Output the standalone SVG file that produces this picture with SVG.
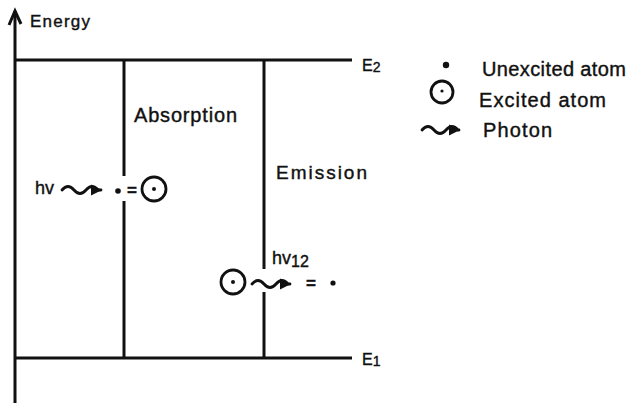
<svg xmlns="http://www.w3.org/2000/svg" width="634" height="403" viewBox="0 0 634 403">
<defs>
<style>
.t{font-family:"Liberation Sans",Arial,sans-serif;fill:#111;stroke:#111;stroke-width:0.4;}
.ln{stroke:#111;stroke-width:3;fill:none;}
.wave{stroke:#111;stroke-width:2.8;fill:none;stroke-linecap:round;}
.atomE{stroke:#111;stroke-width:2.8;fill:none;}
.dot{fill:#111;}
</style>
<marker id="ah" viewBox="0 0 10 10" refX="9" refY="5" markerWidth="4.2" markerHeight="4" markerUnits="strokeWidth" orient="auto">
<path d="M0,0 L10,5 L0,10 Z" fill="#111"/>
</marker>
</defs>
<rect width="634" height="403" fill="#fff"/>
<g id="connectors">
<line class="ln" x1="15" y1="11" x2="15" y2="403"/>
<path class="ln" d="M9,25 L15,11 L21,24" stroke-width="2.5"/>
<line class="ln" x1="15" y1="60" x2="352" y2="60"/>
<line class="ln" x1="15" y1="358" x2="352" y2="358"/>
<line class="ln" x1="124" y1="60" x2="124" y2="176"/>
<line class="ln" x1="124" y1="201" x2="124" y2="358"/>
<line class="ln" x1="264" y1="60" x2="264" y2="269"/>
<line class="ln" x1="264" y1="292" x2="264" y2="358"/>
</g>
<g id="axis-label">
<text class="t" x="30" y="27" font-size="17" textLength="60" lengthAdjust="spacing">Energy</text>
</g>
<g id="level-E2">
<text class="t" x="362" y="71" font-size="16">E<tspan font-size="14" dy="1">2</tspan></text>
</g>
<g id="level-E1">
<text class="t" x="362" y="365" font-size="16">E<tspan font-size="14" dy="1">1</tspan></text>
</g>
<g id="absorption">
<text class="t" x="134" y="122" font-size="20" textLength="103" lengthAdjust="spacing">Absorption</text>
<text class="t" x="35" y="194" font-size="18">hv</text>
<path class="wave" marker-end="url(#ah)" d="M62,190 q6,-7 12,0 t12,0 t12,0 l3,0"/>
<circle class="dot" cx="118" cy="191" r="2.8"/>
<text class="t" x="127" y="196" font-size="17" font-weight="bold">=</text>
<circle class="atomE" cx="154" cy="189" r="12"/>
<circle class="dot" cx="154" cy="189" r="2"/>
</g>
<g id="emission">
<text class="t" x="276" y="179" font-size="19" textLength="91" lengthAdjust="spacing">Emission</text>
<text class="t" x="272" y="264" font-size="18">hv<tspan dy="3" font-size="16">12</tspan></text>
<circle class="atomE" cx="233" cy="282" r="12"/>
<circle class="dot" cx="233" cy="282" r="2"/>
<path class="wave" marker-end="url(#ah)" d="M252,284 q6,-7 12,0 t12,0 t12,0 l2,0"/>
<text class="t" x="306" y="289" font-size="17" font-weight="bold">=</text>
<circle class="dot" cx="333" cy="283" r="2.6"/>
</g>
<g id="legend">
<circle class="dot" cx="446" cy="65" r="3.2"/>
<text class="t" x="482" y="76" font-size="20" textLength="144" lengthAdjust="spacing">Unexcited atom</text>
<circle class="atomE" cx="442" cy="92" r="11"/>
<circle class="dot" cx="442" cy="91" r="1.6"/>
<text class="t" x="479" y="107" font-size="20" textLength="127" lengthAdjust="spacing">Excited atom</text>
<path class="wave" marker-end="url(#ah)" d="M422,130 q6,-7 12,0 t12,0 t12,0 l1,0"/>
<text class="t" x="483" y="137" font-size="20" textLength="69" lengthAdjust="spacing">Photon</text>
</g>
</svg>
